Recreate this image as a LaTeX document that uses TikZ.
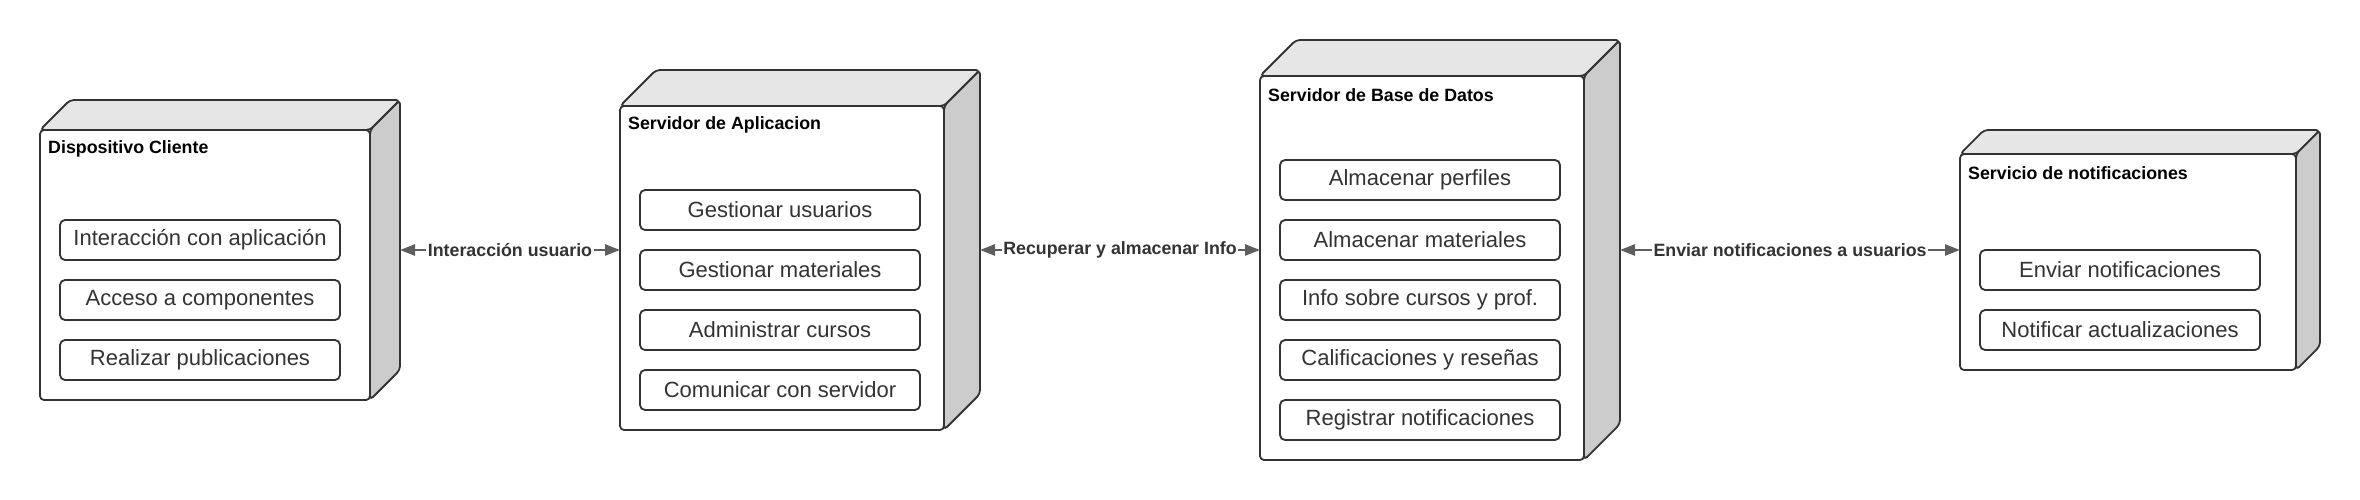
\documentclass[tikz,border=0pt]{standalone}
\usepackage{fontspec}
\setmainfont{Liberation Sans}
\usetikzlibrary{calc,arrows.meta}
\definecolor{edge}{HTML}{333333}
\definecolor{topgray}{HTML}{E6E6E6}
\definecolor{sidegray}{HTML}{CCCCCC}
\definecolor{arrowgray}{HTML}{5E5E5E}
\definecolor{txt}{HTML}{333333}
\newcommand{\drawdev}[2]{%
  \draw[topface] ($(#1.north west)+(0,#2)$) -- ++(#2,-#2) -- (#1.north east) -- ++(-#2,#2) -- cycle;
  \draw[sideface] ($(#1.north east)+(-#2,#2)$) -- (#1.north east) -- ($(#1.south east)+(0,-#2)$) -- ($(#1.south east)+(-#2,0)$) -- cycle;
  \draw[frontface] ($(#1.north west)+(0,#2)$) rectangle ($(#1.south east)+(-#2,0)$);
}
\begin{document}
\begin{tikzpicture}[x=1pt,y=-1pt,
  hull/.style={inner sep=0pt, outer sep=0pt, draw=none, minimum width=360pt},
  faceline/.style={draw=edge, line width=1.8pt, rounded corners=4pt, line join=round},
  topface/.style={faceline, fill=topgray},
  sideface/.style={faceline, fill=sidegray},
  frontface/.style={faceline, fill=white},
  devtitle/.style={anchor=west, font=\bfseries\fontsize{17.8}{21}\selectfont, text=black, inner sep=0pt},
  task/.style={draw=edge, line width=1.8pt, rounded corners=5pt, fill=white, minimum width=280pt, minimum height=40pt, inner sep=0pt, font=\fontsize{22}{26}\selectfont, text=txt},
  link/.style={draw=arrowgray, line width=2.4pt, {Triangle[length=15pt,width=11pt]}-{Triangle[length=15pt,width=11pt]}},
  linklabel/.style={fill=white, font=\bfseries\fontsize{17.8}{21}\selectfont, text=txt, inner sep=1.5pt}
]
\useasboundingbox (0,0) rectangle (2360,500);

% device hulls
\node[hull, minimum height=300pt] (dev1) at (220,250) {};
\node[hull, minimum height=360pt] (dev2) at (800,250) {};
\node[hull, minimum height=420pt] (dev3) at (1440,250) {};
\node[hull, minimum height=240pt] (dev4) at (2140,250) {};

\drawdev{dev1}{30}
\drawdev{dev2}{36}
\drawdev{dev3}{36}
\drawdev{dev4}{24}

% titles
\node[devtitle] (t1) at ($(dev1.north west)+(8,49)$) {Dispositivo Cliente};
\node[devtitle] (t2) at ($(dev2.north west)+(8,55)$) {Servidor de Aplicacion};
\node[devtitle] (t3) at ($(dev3.north west)+(8,55)$) {Servidor de Base de Datos};
\node[devtitle] (t4) at ($(dev4.north west)+(8,43)$) {Servicio de notificaciones};

% tasks
\node[task] (a1) at (200,240) {Interacción con aplicación};
\node[task] (a2) at (200,300) {Acceso a componentes};
\node[task] (a3) at (200,360) {Realizar publicaciones};

\node[task] (b1) at (780,210) {Gestionar usuarios};
\node[task] (b2) at (780,270) {Gestionar materiales};
\node[task] (b3) at (780,330) {Administrar cursos};
\node[task] (b4) at (780,390) {Comunicar con servidor};

\node[task] (c1) at (1420,180) {Almacenar perfiles};
\node[task] (c2) at (1420,240) {Almacenar materiales};
\node[task] (c3) at (1420,300) {Info sobre cursos y prof.};
\node[task] (c4) at (1420,360) {Calificaciones y reseñas};
\node[task] (c5) at (1420,420) {Registrar notificaciones};

\node[task] (d1) at (2120,270) {Enviar notificaciones};
\node[task] (d2) at (2120,330) {Notificar actualizaciones};

% links
\draw[link] (dev1.east) -- node[linklabel] (l1) {Interacción usuario} (dev2.west);
\draw[link] (dev2.east) -- node[linklabel] (l2) {Recuperar y almacenar Info} (dev3.west);
\draw[link] (dev3.east) -- node[linklabel] (l3) {Enviar notificaciones a usuarios} (dev4.west);
\end{tikzpicture}
\end{document}
